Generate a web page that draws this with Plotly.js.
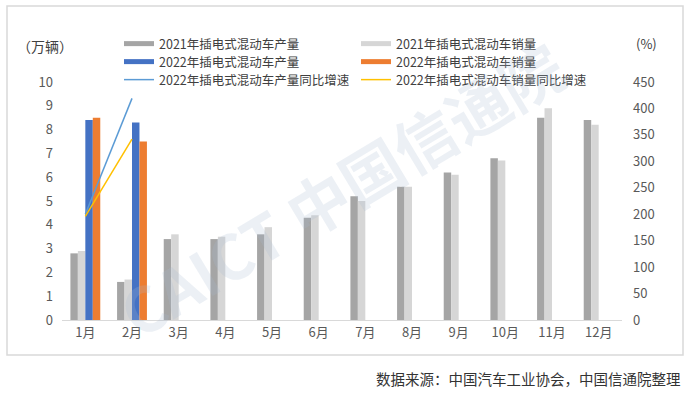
<!DOCTYPE html>
<html>
<head>
<meta charset="utf-8">
<script src="https://cdn.plot.ly/plotly-3.0.1.min.js"></script>
<style>html,body{margin:0;padding:0;background:#fff;}#chart{width:689px;height:397px;}</style>
</head>
<body>
<div id="chart"></div>
<script>
const months = ["1月","2月","3月","4月","5月","6月","7月","8月","9月","10月","11月","12月"];
const prod2021 = [2.8, 1.6, 3.4, 3.4, 3.6, 4.3, 5.2, 5.6, 6.2, 6.8, 8.5, 8.4];
const sales2021 = [2.9, 1.7, 3.6, 3.5, 3.9, 4.4, 5.0, 5.6, 6.1, 6.7, 8.9, 8.2];
const prod2022 = [8.4, 8.3, null, null, null, null, null, null, null, null, null, null];
const sales2022 = [8.5, 7.5, null, null, null, null, null, null, null, null, null, null];
const prodGrowth2022 = [200, 419];
const salesGrowth2022 = [196, 342];
const growthMonths = ["1月","2月"];

const names = ["2021年插电式混动车产量","2021年插电式混动车销量","2022年插电式混动车产量","2022年插电式混动车销量","2022年插电式混动车产量同比增速","2022年插电式混动车销量同比增速"];
const colors = ["#A5A5A5","#D6D6D6","#4472C4","#ED7D31","#5B9BD5","#FFC000"];

const font = "'Noto Sans CJK SC', 'Noto Sans', sans-serif";

const traces = [];
const barData = [prod2021, sales2021, prod2022, sales2022];
barData.forEach((d,i)=>{
  traces.push({type:'bar', x:months, y:d, name:names[i], marker:{color:colors[i]}, showlegend:false, hoverinfo:'y'});
});
traces.push({type:'scatter', mode:'lines', x:growthMonths, y:prodGrowth2022, yaxis:'y2', name:names[4], line:{color:colors[4], width:1.5}, showlegend:false});
traces.push({type:'scatter', mode:'lines', x:growthMonths, y:salesGrowth2022, yaxis:'y2', name:names[5], line:{color:colors[5], width:1.5}, showlegend:false});

// legend: two columns, three rows; each entry in its own legend box for exact placement
const legendCol = [0,1,0,1,0,1];
const legendRow = [0,0,1,1,2,2];
const colX = [(119-62)/560, (356-62)/560];
const rowY = [44, 62, 80].map(p => (320-p)/238);

const layout = {
  width:689, height:397,
  margin:{l:62, r:67, t:82, b:77},
  paper_bgcolor:'#fff', plot_bgcolor:'#fff',
  font:{family:font, size:13, color:'#595959'},
  barmode:'group', bargap:0.36, bargroupgap:0,
  showlegend:true,
  xaxis:{type:'category', range:[-0.5,11.5], showline:true, linecolor:'#D9D9D9', linewidth:1,
    ticks:'', showgrid:false, zeroline:false, tickfont:{size:13, color:'#595959'}},
  yaxis:{range:[0,10], dtick:1, tick0:0, showgrid:false, zeroline:false, showline:false,
    ticks:'', tickfont:{size:13, color:'#595959'}, ticklabelstandoff:8},
  yaxis2:{overlaying:'y', side:'right', range:[0,450], dtick:50, tick0:0, showgrid:false,
    zeroline:false, showline:false, ticks:'', tickfont:{size:13, color:'#595959'}, ticklabelstandoff:10},
  annotations:[
    {text:'CAICT 中国信通院', xref:'paper', yref:'paper', x:(340-62)/560, y:(320-188)/238, showarrow:false,
     textangle:-31, font:{size:62, family:font, color:'rgba(170,185,210,0.22)', weight:'bold'}},
    {text:'（万辆）', xref:'paper', yref:'paper', x:(45-62)/560, y:(320-46)/238, showarrow:false,
     xanchor:'center', yanchor:'middle', font:{size:14, color:'#404040'}},
    {text:'(%)', xref:'paper', yref:'paper', x:(646-62)/560, y:(320-44)/238, showarrow:false,
     xanchor:'center', yanchor:'middle', font:{size:13, color:'#404040'}},
    {text:'数据来源：中国汽车工业协会，中国信通院整理', xref:'paper', yref:'paper', x:(683-62)/560, y:(320-378)/238,
     showarrow:false, xanchor:'right', yanchor:'middle', font:{size:14.5, color:'#333333'}}
  ],
  shapes:[
    {type:'rect', xref:'paper', yref:'paper', x0:(7-62)/560, x1:(683-62)/560, y0:(320-355)/238, y1:(320-6)/238,
     line:{color:'#D9D9D9', width:1.5}, fillcolor:'rgba(0,0,0,0)', layer:'below'}
  ]
};

names.forEach((nm,i)=>{
  const key = i === 0 ? 'legend' : 'legend' + (i+1);
  traces.push({type:'scatter', mode:'lines', x:[null], y:[null], name:nm, legend:key,
    line:{color:colors[i], width: i<4 ? 5 : 1.5}, showlegend:true, hoverinfo:'skip'});
  layout[key] = {x:colX[legendCol[i]], y:rowY[legendRow[i]], xanchor:'left', yanchor:'middle',
    bgcolor:'rgba(0,0,0,0)', borderwidth:0, itemwidth:30,
    font:{size:12.5, color:'#404040', family:font}};
});

Plotly.newPlot('chart', traces, layout, {staticPlot:true, displayModeBar:false});
</script>
</body>
</html>
